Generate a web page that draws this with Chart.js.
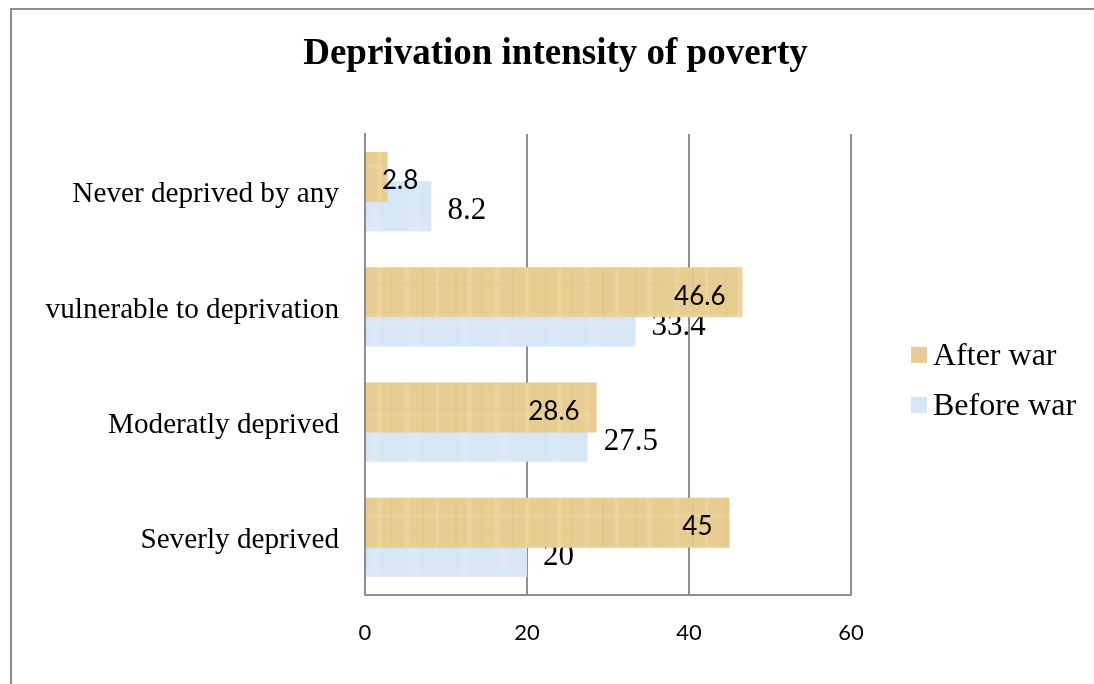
<!DOCTYPE html>
<html>
<head>
<meta charset="utf-8">
<script src="https://cdn.jsdelivr.net/npm/chart.js@4.4.1/dist/chart.umd.min.js"></script>
<style>
  html, body { margin: 0; padding: 0; background: #ffffff; }
  #wrap { position: relative; width: 1094px; height: 684px; overflow: hidden; }
  #frame { position: absolute; left: 10px; top: 8px; right: -4px; bottom: -4px;
           border-left: 2px solid #8c8c8c; border-top: 2px solid #8c8c8c; pointer-events: none; }
  canvas { position: absolute; left: 0; top: 0; }
</style>
</head>
<body>
<div id="wrap">
  <canvas id="chart" width="1094" height="684"></canvas>
  <div id="frame"></div>
</div>
<script>
// Poverty deprivation categories (top to bottom)
const categories = [
  'Never deprived by any',
  'vulnerable to deprivation',
  'Moderatly deprived',
  'Severly deprived'
];
const afterWar = [2.8, 46.6, 28.6, 45];
const beforeWar = [8.2, 33.4, 27.5, 20];
const xTicks = [0, 20, 40, 60];
const chartTitle = 'Deprivation intensity of poverty';
const seriesNames = ['After war', 'Before war'];

const TAN = '#E8CD92';
const BLUE = '#D7E6F5';
const GRID = '#8e8e8e';
const SERIF = '"Liberation Serif", "Times New Roman", serif';
const SANS = 'Lato, "Open Sans", sans-serif';

// Light paper-like fill: a base colour with a few fixed soft streaks
function streakFill(base, streaks, rows) {
  const c = document.createElement('canvas');
  c.width = 90; c.height = 50;
  const g = c.getContext('2d');
  g.fillStyle = base;
  g.fillRect(0, 0, 90, 50);
  streaks.forEach(([x, w, col]) => { g.fillStyle = col; g.fillRect(x, 0, w, 50); });
  rows.forEach(([y, h, col]) => { g.fillStyle = col; g.fillRect(0, y, 90, h); });
  return g.createPattern(c, 'repeat');
}
const tanFill = streakFill(TAN, [
  [5, 2, 'rgba(190,150,80,0.10)'], [17, 5, 'rgba(255,240,205,0.18)'],
  [31, 1, 'rgba(190,150,80,0.12)'], [44, 6, 'rgba(255,240,205,0.15)'],
  [62, 2, 'rgba(190,150,80,0.09)'], [75, 4, 'rgba(255,240,205,0.16)']
], [
  [14, 3, 'rgba(255,245,215,0.10)'], [33, 2, 'rgba(190,150,80,0.06)']
]);
const blueFill = streakFill(BLUE, [
  [10, 9, 'rgba(255,255,255,0.12)'], [48, 12, 'rgba(255,255,255,0.10)']
], [
  [20, 8, 'rgba(255,255,255,0.08)']
]);

// Value labels: "After war" inside the bar end, "Before war" just past the bar end
const valueLabels = {
  id: 'valueLabels',
  afterDatasetDraw(chart, args) {
    const ctx = chart.ctx;
    const meta = chart.getDatasetMeta(args.index);
    const data = chart.data.datasets[args.index].data;
    ctx.save();
    ctx.fillStyle = '#000';
    ctx.textBaseline = 'middle';
    ctx.textAlign = 'left';
    meta.data.forEach((bar, i) => {
      const txt = String(data[i]);
      if (args.index === 0) {
        ctx.font = '26px ' + SANS;
        const w = ctx.measureText(txt).width;
        const left = Math.max(bar.x - 17 - w, bar.base + 16);
        ctx.fillText(txt, left, bar.y + 4);
      } else {
        ctx.font = '31px ' + SERIF;
        ctx.fillText(txt, bar.x + 16, bar.y + 5);
      }
    });
    ctx.restore();
  }
};

// Title and legend drawn onto the canvas
const decorations = {
  id: 'decorations',
  afterDraw(chart) {
    const ctx = chart.ctx;
    ctx.save();
    ctx.fillStyle = '#000';
    ctx.textBaseline = 'middle';
    ctx.textAlign = 'center';
    ctx.font = 'bold 37px ' + SERIF;
    ctx.fillText(chartTitle, 555.5, 54);

    const rows = [355, 405];
    const swatches = [TAN, BLUE];
    chart.data.datasets.forEach((ds, i) => {
      const y = rows[i];
      ctx.fillStyle = swatches[i];
      ctx.fillRect(911, y - 8, 16, 16);
      ctx.fillStyle = '#000';
      ctx.textAlign = 'left';
      ctx.font = '32px ' + SERIF;
      ctx.fillText(ds.label, 933, y + 2);
    });
    ctx.restore();
  }
};

new Chart(document.getElementById('chart'), {
  type: 'bar',
  data: {
    labels: categories,
    datasets: [
      { label: seriesNames[0], data: afterWar, backgroundColor: tanFill,
        categoryPercentage: 0.51, barPercentage: 1.7 },
      { label: seriesNames[1], data: beforeWar, backgroundColor: blueFill,
        categoryPercentage: 0.51, barPercentage: 1.7 }
    ]
  },
  options: {
    indexAxis: 'y',
    responsive: false,
    animation: false,
    devicePixelRatio: 1,
    layout: { padding: { left: 0, right: 243, top: 134, bottom: 0 } },
    plugins: {
      legend: { display: false },
      title: { display: false },
      tooltip: { enabled: false }
    },
    scales: {
      x: {
        min: 0, max: 60,
        afterBuildTicks(scale) { scale.ticks = xTicks.map(v => ({ value: v })); },
        afterFit(scale) { scale.height = 89; },
        grid: { color: GRID, lineWidth: 2, drawTicks: false },
        border: { display: true, color: GRID, width: 2 },
        ticks: { padding: 25, color: '#000', font: { family: SANS, size: 22 } }
      },
      y: {
        afterFit(scale) { scale.width = 365; },
        grid: { display: false, drawTicks: false },
        border: { display: true, color: GRID, width: 2 },
        ticks: { padding: 26, labelOffset: 3, color: '#000', font: { family: SERIF, size: 29.2 } }
      }
    }
  },
  plugins: [valueLabels, decorations]
});
</script>
</body>
</html>
